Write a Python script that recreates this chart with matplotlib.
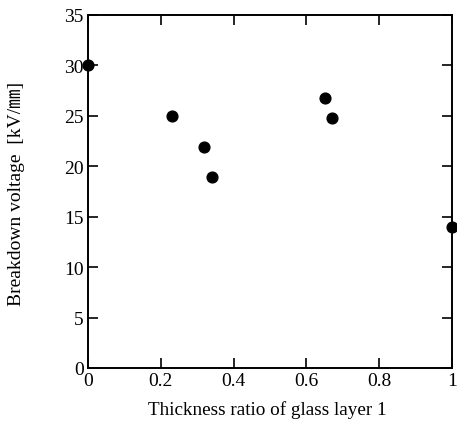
import matplotlib
matplotlib.use("Agg")
import matplotlib.pyplot as plt

# 读图估计的数据
thickness_ratio = [0.0, 0.23, 0.32, 0.34, 0.65, 0.67, 1.0]
breakdown_kv = [30.0, 25.0, 21.9, 18.9, 26.8, 24.8, 14.0]

x_ticks = [0, 0.2, 0.4, 0.6, 0.8, 1]
x_tick_labels = ["0", "0.2", "0.4", "0.6", "0.8", "1"]
y_ticks = [0, 5, 10, 15, 20, 25, 30, 35]

plt.rcParams["font.family"] = ["Liberation Serif", "Noto Sans CJK JP", "DejaVu Sans"]

fig = plt.figure(figsize=(4.57, 4.31), dpi=100)
ax = fig.add_axes([88 / 457, 1 - 369 / 431, 364 / 457, 353 / 431])

ax.scatter(thickness_ratio, breakdown_kv, s=60, color="black", zorder=5, clip_on=False)

ax.set_xlim(0, 1)
ax.set_ylim(0, 35)
ax.set_xticks(x_ticks)
ax.set_xticklabels(x_tick_labels)
ax.set_yticks(y_ticks)

for side in ax.spines.values():
    side.set_linewidth(1.4)

ax.tick_params(direction="in", length=7, width=1.2, top=True, right=True,
               labelsize=14, pad=3)

ax.set_xlabel("Thickness ratio of glass layer 1", fontsize=13.8)
ax.set_ylabel("Breakdown voltage  [kV/\u339c]", fontsize=14)
ax.xaxis.set_label_coords(0.5 * (148 + 386) / 457, 1 - 410 / 431, transform=fig.transFigure)
ax.yaxis.set_label_coords(17 / 457, 1 - 194 / 431, transform=fig.transFigure)
ax.xaxis.label.set_va("center")
ax.yaxis.label.set_va("center")

plt.savefig("out.png", dpi=100)
plt.close()
